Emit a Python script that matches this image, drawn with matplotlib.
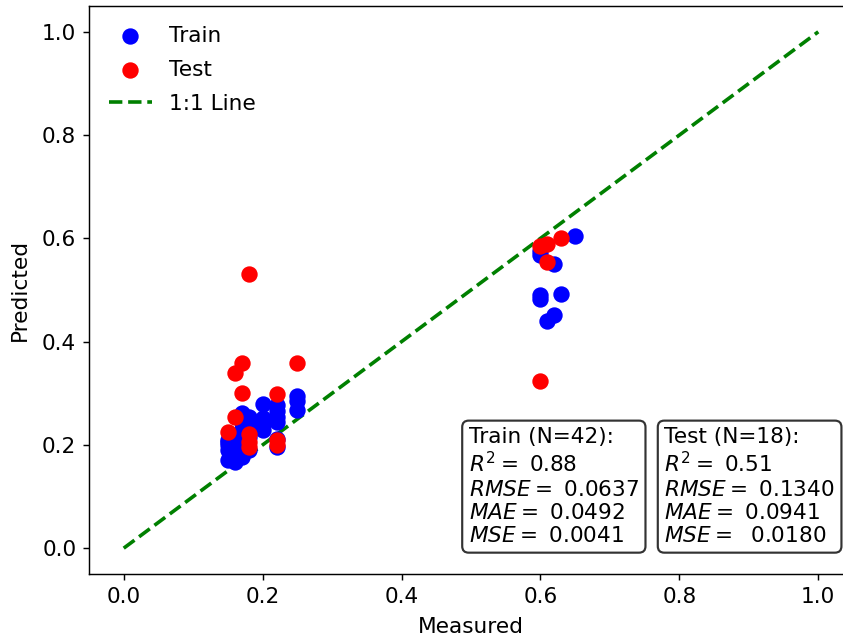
import numpy as np
import matplotlib
matplotlib.use("Agg")
import matplotlib.pyplot as plt

# dados de treino (medido, previsto)
train_meas = [0.25, 0.25, 0.25,
              0.22, 0.22, 0.22, 0.22, 0.22, 0.22,
              0.20, 0.20, 0.20, 0.20,
              0.18, 0.18, 0.18, 0.18, 0.18, 0.18,
              0.17, 0.17, 0.17, 0.17, 0.17,
              0.16, 0.16, 0.16, 0.16,
              0.15, 0.15, 0.15, 0.15, 0.15,
              0.65, 0.60, 0.62, 0.60, 0.60, 0.63, 0.62, 0.61, 0.60]
train_pred = [0.295, 0.285, 0.267,
              0.277, 0.265, 0.255, 0.245, 0.212, 0.196,
              0.280, 0.252, 0.229, 0.240,
              0.245, 0.229, 0.255, 0.215, 0.190, 0.235,
              0.261, 0.230, 0.190, 0.177, 0.245,
              0.210, 0.200, 0.167, 0.185,
              0.206, 0.190, 0.170, 0.210, 0.200,
              0.605, 0.567, 0.550, 0.490, 0.482, 0.493, 0.452, 0.440, 0.575]

# dados de teste
test_meas = [0.18, 0.17, 0.16, 0.25, 0.17, 0.22, 0.16, 0.15, 0.18,
             0.18, 0.22, 0.22, 0.18, 0.60, 0.61, 0.63, 0.61, 0.60]
test_pred = [0.531, 0.358, 0.340, 0.358, 0.300, 0.298, 0.254, 0.225, 0.222,
             0.196, 0.210, 0.200, 0.205, 0.585, 0.590, 0.600, 0.555, 0.324]

train_stats = ["Train (N=42):", r"$R^2 = $ 0.88", r"$RMSE = $ 0.0637",
               r"$MAE = $ 0.0492", r"$MSE = $ 0.0041"]
test_stats = ["Test (N=18):", r"$R^2 = $ 0.51", r"$RMSE = $ 0.1340",
              r"$MAE = $ 0.0941", r"$MSE = $  0.0180"]

dpi = 130
W, H = 843, 639
fig = plt.figure(figsize=(W / dpi, H / dpi), dpi=dpi)
# o eixo passa um pouco da borda direita (imagem recortada)
ax = fig.add_axes([89 / W, (H - 574) / H, 764 / W, 568 / H])

ax.scatter(train_meas, train_pred, color="blue", s=65, label="Train", zorder=2)
ax.scatter(test_meas, test_pred, color="red", s=65, label="Test", zorder=3)
ax.plot([0, 1], [0, 1], "g--", lw=2, label="1:1 Line", zorder=1)

ax.set_xlim(-0.05, 1.05)
ax.set_ylim(-0.05, 1.05)
ax.set_xlabel("Measured", fontsize=12, labelpad=6)
ax.set_ylabel("Predicted", fontsize=12, labelpad=7)
ax.tick_params(labelsize=12)

ax.legend(loc="upper left", frameon=False, fontsize=12, labelspacing=0.65)

box = dict(boxstyle="round,pad=0.3", facecolor="white", edgecolor="#333333", lw=1.2)
ax.text(0.497, 0.049, "\n".join(train_stats), transform=ax.transAxes,
        ha="left", va="bottom", fontsize=12, bbox=box, zorder=5)
ax.text(0.753, 0.049, "\n".join(test_stats), transform=ax.transAxes,
        ha="left", va="bottom", fontsize=12, bbox=box, zorder=5)

fig.savefig("out.png", dpi=dpi)
